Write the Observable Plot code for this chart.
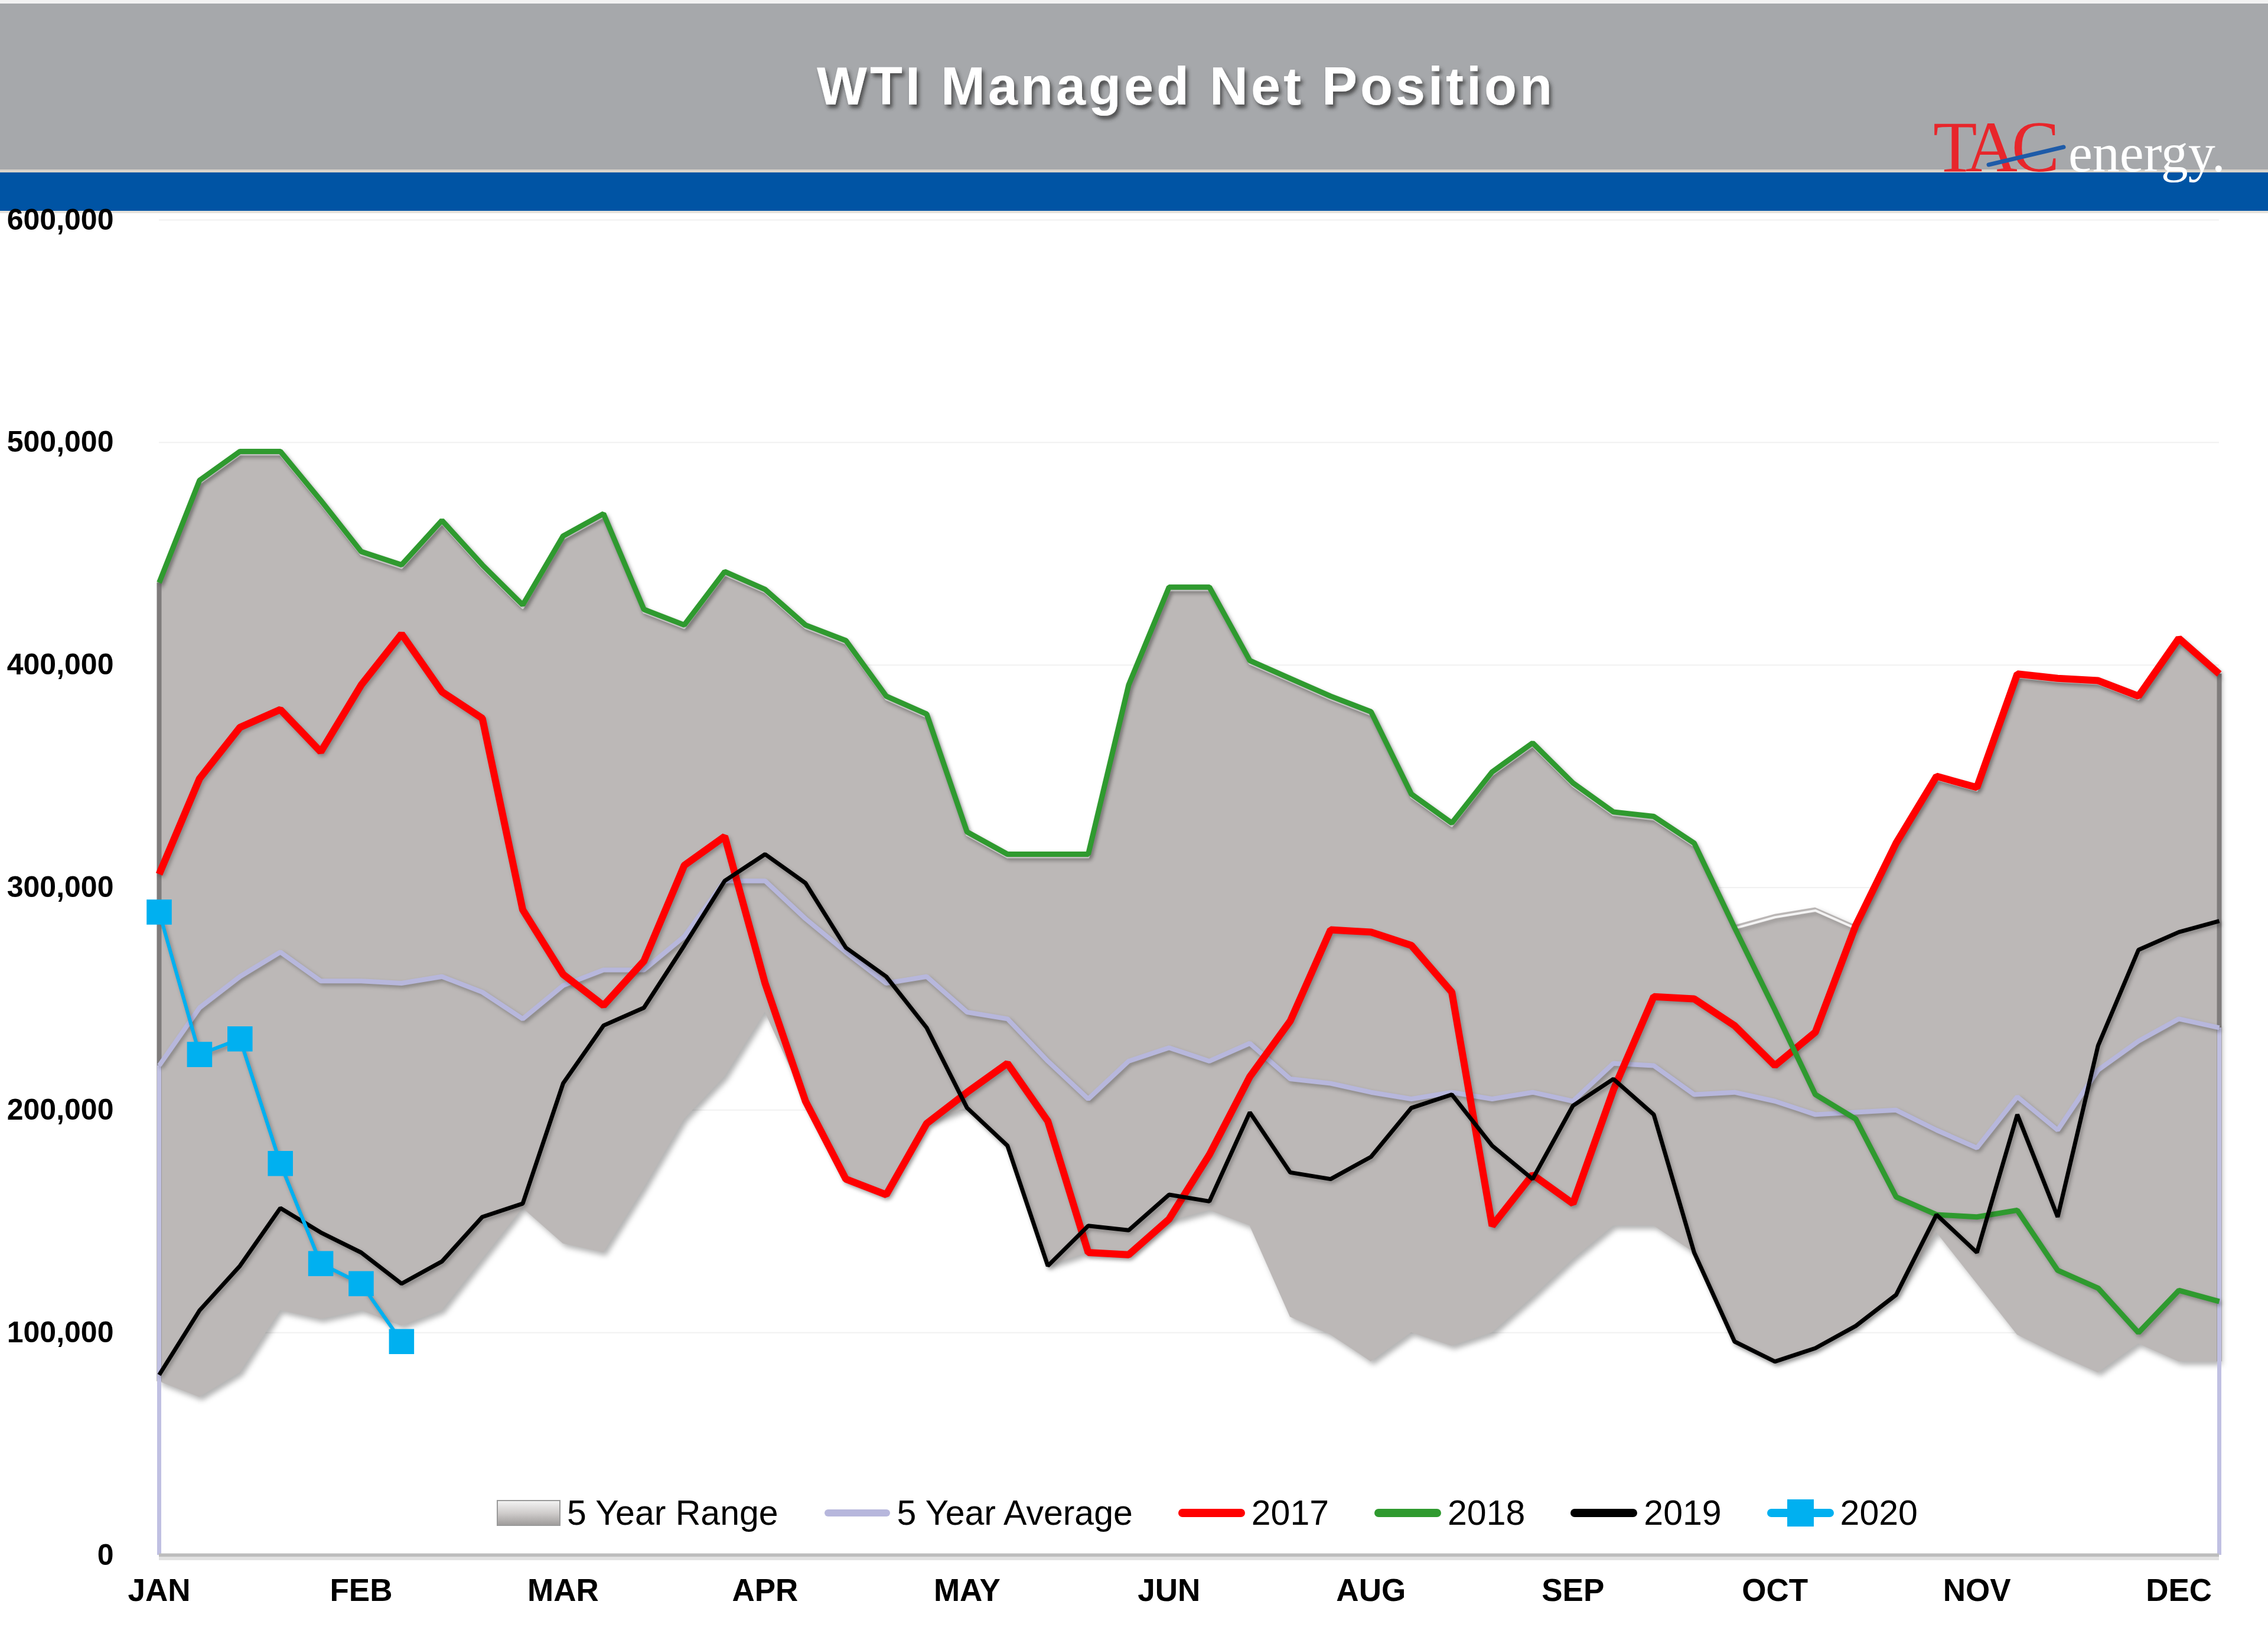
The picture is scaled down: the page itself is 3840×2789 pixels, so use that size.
<!DOCTYPE html>
<html><head><meta charset="utf-8">
<script src="https://cdn.jsdelivr.net/npm/d3@7"></script>
<script src="https://cdn.jsdelivr.net/npm/@observablehq/plot@0.6"></script>
<style>
html,body{margin:0;padding:0;background:#fff;}
#page{position:relative;width:3840px;height:2789px;overflow:hidden;background:#fff;font-family:"Liberation Sans",Arial,sans-serif;}
#header{position:absolute;left:0;top:0;}
#chart{position:absolute;left:0;top:357px;}
#legend{position:absolute;left:840px;top:2528px;display:flex;align-items:center;gap:76px;font-size:59px;color:#000;line-height:68px;}
.item{display:flex;align-items:center;gap:10px;}
</style></head>
<body><div id="page">
<svg id="header" width="3840" height="362" xmlns="http://www.w3.org/2000/svg">
  <defs>
    <filter id="tshadow" x="-5%" y="-20%" width="110%" height="160%">
      <feDropShadow dx="4" dy="6" stdDeviation="3" flood-color="#333" flood-opacity="0.75"/>
    </filter>
  </defs>
  <rect x="0" y="0" width="3840" height="6" fill="#f2f2f2"/>
  <rect x="0" y="6" width="3840" height="281" fill="#a6a8ab"/>
  <rect x="0" y="287" width="3840" height="5" fill="#d8d3ca"/>
  <rect x="0" y="292" width="3840" height="65" fill="#0054a4"/>
  <rect x="0" y="357" width="3840" height="4" fill="#e6e2dc"/>
  <text id="title" x="2008" y="177" text-anchor="middle" fill="#fff" font-family="Liberation Sans, Arial, sans-serif" font-weight="bold" font-size="90" letter-spacing="5" filter="url(#tshadow)">WTI Managed Net Position</text>
  <text x="3273" y="290" fill="#e8262b" font-family="Liberation Serif, Times New Roman, serif" font-size="122" letter-spacing="-10">TAC</text>
  <line x1="3367" y1="279" x2="3494" y2="249" stroke="#1e5ba8" stroke-width="7" stroke-linecap="round"/>
  <text x="3502" y="290" fill="#fff" font-family="Liberation Serif, Times New Roman, serif" font-size="92">energy.</text>
</svg>
<div id="chart"></div>
<div id="legend"></div>
</div>
<script>
// ---- data (thousands of contracts), weekly, 52 weeks ----
const K = 1000;
const weeks = d3.range(52);
const monthLabels = ["JAN","FEB","MAR","APR","MAY","JUN","AUG","SEP","OCT","NOV","DEC"];
const monthTickWeeks = [0,5,10,15,20,25,30,35,40,45,50];
const yTicks = [0,100000,200000,300000,400000,500000,600000];

const rangeHigh = [437,483,496,496,474,451,445,465,445,427,458,468,425,418,442,434,418,411,386,378,325,315,315,315,391,435,435,402,394,386,379,342,329,352,365,347,334,332,320,283,288,291,283,320,350,345,396,394,393,386,412,396];
const rangeLow  = [78,71,82,110,106,110,103,110,133,156,140,136,165,196,215,244,204,169,162,194,201,184,130,136,135,150,155,148,107,99,87,100,94,100,116,133,148,148,136,96,87,93,103,117,145,122,99,90,82,95,87,87];
const avg5  = [220,246,260,271,258,258,257,260,253,241,256,263,263,278,303,303,286,271,257,260,244,241,222,205,222,228,222,230,214,212,208,205,208,205,208,204,221,220,207,208,204,198,199,200,191,183,206,191,218,231,241,237];
const y2017 = [306,349,372,380,361,391,414,388,376,290,261,247,267,310,323,257,204,169,162,194,208,221,195,136,135,151,180,215,240,281,280,274,253,148,171,158,209,251,250,238,220,235,283,320,350,345,396,394,393,386,412,396];
const y2018 = [437,483,496,496,474,451,445,465,445,427,458,468,425,418,442,434,418,411,386,378,325,315,315,315,391,435,435,402,394,386,379,342,329,352,365,347,334,332,320,282,245,207,196,161,153,152,155,128,120,100,119,114];
const y2019 = [81,110,130,156,145,136,122,132,152,158,212,238,246,274,303,315,302,273,260,237,201,184,130,148,146,162,159,199,172,169,179,201,207,184,169,202,214,198,136,96,87,93,103,117,153,136,198,152,229,272,280,285];
const y2020 = [289,225,232,176,131,122,96];

const seriesNames  = ["5 Year Range","5 Year Average","2017","2018","2019","2020"];
const seriesColors = ["#bcb8b7","#b7b7dc","#ff0000","#2f9a2f","#000000","#00b0f0"];

const lineSeries = [
  {name:"5 Year Average", values: avg5,  color: seriesColors[1], w: 8},
  {name:"2017", values: y2017, color: seriesColors[2], w: 12},
  {name:"2018", values: y2018, color: seriesColors[3], w: 9},
  {name:"2019", values: y2019, color: seriesColors[4], w: 7},
  {name:"2020", values: y2020, color: seriesColors[5], w: 6}
];

const edges = [0, 51];

const marks = [
  Plot.gridY(yTicks, {stroke: "#e4e4e4", strokeOpacity: 0.5, strokeWidth: 2}),
  Plot.areaY(weeks, {x: d => d, y1: d => rangeLow[d]*K, y2: d => rangeHigh[d]*K, fill: seriesColors[0]}),
  Plot.lineY(weeks, {x: d => d, y: d => rangeHigh[d]*K, dy: 5, stroke: "#ffffff", strokeOpacity: 0.85, strokeWidth: 4}),
  Plot.ruleX(edges, {x: d => d, y1: d => rangeLow[d]*K, y2: d => rangeHigh[d]*K, stroke: "#7f7c7c", strokeWidth: 8}),
  Plot.ruleX(edges, {x: d => d, y1: 0, y2: d => avg5[d]*K, stroke: "#c0c0e2", strokeWidth: 7}),
  Plot.ruleY([0], {stroke: "#bdbdbd", strokeWidth: 6}),
  Plot.ruleY([0], {stroke: "#e2e2e2", strokeWidth: 5, dy: 6})
];
for (const s of lineSeries) {
  const idx = d3.range(s.values.length);
  marks.push(Plot.lineY(idx, {x: d => d, y: d => s.values[d]*K, stroke: s.color, strokeWidth: s.w, strokeLinejoin: "miter", strokeLinecap: "butt"}));
}
marks.push(Plot.dot(d3.range(y2020.length), {x: d => d, y: d => y2020[d]*K, symbol: "square", r: 24, fill: seriesColors[5], stroke: null}));
marks.push(Plot.axisY(yTicks, {tickSize: 0, tickPadding: 77, tickFormat: d3.format(","), fontSize: 50, fontWeight: "bold", label: null}));
marks.push(Plot.axisX(monthTickWeeks, {tickSize: 0, tickPadding: 40, tickFormat: d => monthLabels[monthTickWeeks.indexOf(d)], fontSize: 53, fontWeight: "bold", label: null}));

const chart = Plot.plot({
  width: 3840,
  height: 2432,
  marginTop: 15,
  marginBottom: 156,
  marginLeft: 269,
  marginRight: 83,
  x: {domain: [0, 51]},
  y: {domain: [0, 600000]},
  style: {background: "transparent", overflow: "visible", color: "#000", fontFamily: "Liberation Sans, Arial, sans-serif", fontWeight: "bold", fontSize: "50px"},
  marks
});
document.getElementById("chart").appendChild(chart);

// soft Excel-like shadows
d3.select(chart).selectAll('g[aria-label="area"]').style("filter", "drop-shadow(5px 6px 5px rgba(0,0,0,0.30))");
d3.select(chart).selectAll('g[aria-label="line"]').style("filter", "drop-shadow(3px 4px 3px rgba(0,0,0,0.28))");

// ---- legend (inside plot, bottom) ----
const legend = d3.select("#legend");
seriesNames.forEach((name, i) => {
  const item = legend.append("div").attr("class", "item");
  const sw = item.append("svg").attr("width", i === 0 ? 110 : 115).attr("height", 50);
  if (i === 0) {
    const g = sw.append("defs").append("linearGradient").attr("id", "rg").attr("x1", 0).attr("y1", 0).attr("x2", 0).attr("y2", 1);
    g.append("stop").attr("offset", "0").attr("stop-color", "#f4f4f4");
    g.append("stop").attr("offset", "0.5").attr("stop-color", "#d0cdcc");
    g.append("stop").attr("offset", "1").attr("stop-color", "#9e9b9a");
    sw.append("rect").attr("x", 2).attr("y", 4).attr("width", 106).attr("height", 42).attr("fill", "url(#rg)").attr("stroke", "#9a9a9a").attr("stroke-width", 2);
  } else {
    sw.append("line").attr("x1", 8).attr("x2", 107).attr("y1", 25).attr("y2", 25)
      .attr("stroke", seriesColors[i]).attr("stroke-width", i === 1 ? 12 : 14).attr("stroke-linecap", "round");
    if (i === 5) sw.append("rect").attr("x", 35).attr("y", 2).attr("width", 45).attr("height", 46).attr("fill", seriesColors[i]);
  }
  item.append("span").text(name);
});
</script>
</body></html>
